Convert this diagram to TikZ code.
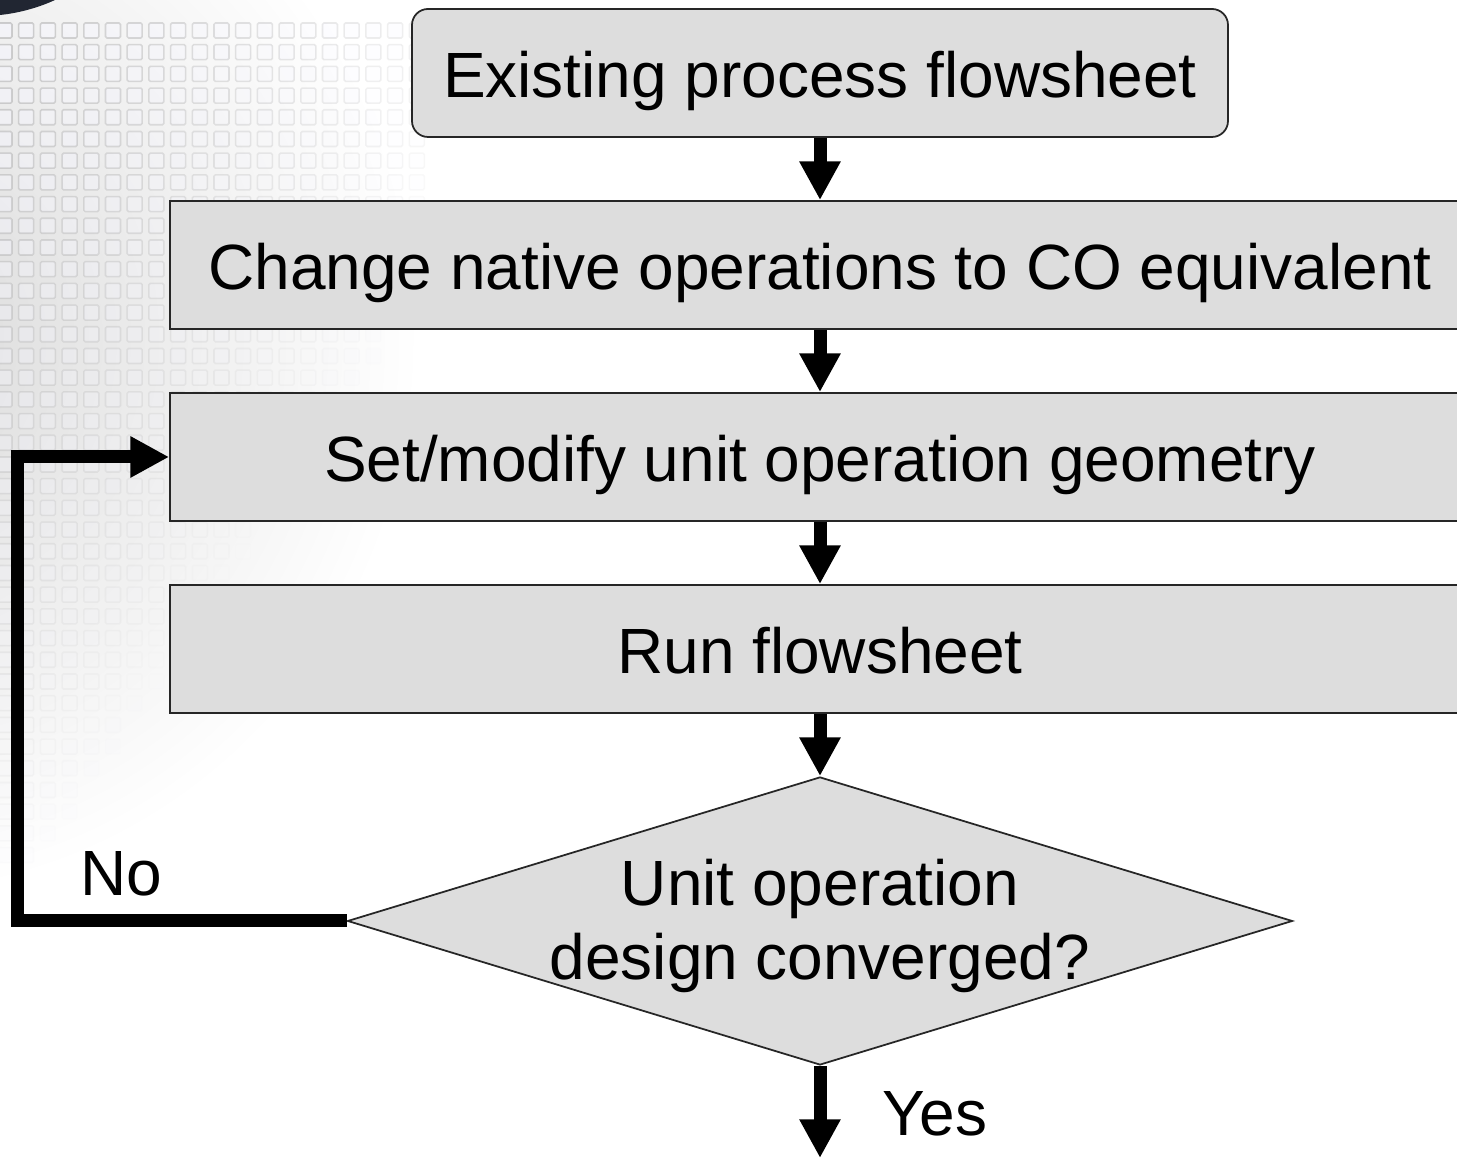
\documentclass[tikz,border=0pt]{standalone}
\usepackage{fontspec}
\setmainfont{Liberation Sans}
\usepackage{tikz}
\usetikzlibrary{shapes.geometric, arrows.meta}
\definecolor{boxgray}{RGB}{221, 221, 221}
\definecolor{cornerdark}{RGB}{33, 38, 50}
\newcommand{\flowfont}{\fontsize{18.2}{21.3}\selectfont}

\begin{document}
\begin{tikzpicture}[>=Stealth,
    procbox/.style={draw=black!85, line width=0.5pt, fill=boxgray, minimum width=13cm, minimum height=1.28cm, font=\flowfont, text height=0.5cm, text depth=0cm},
    startbox/.style={procbox, rounded corners=0.16cm, minimum width=8.16cm},
    decision/.style={diamond, draw=black!85, line width=0.5pt, fill=boxgray, minimum width=9.45cm, minimum height=2.88cm, inner sep=0pt},
    flow/.style={line width=3.7pt, -{Triangle[length=11pt, width=11pt]}},
    gridsq/.style={draw=gray!65, fill=blue!3, line width=0.45pt, rounded corners=0.4pt}]
    \useasboundingbox (0, 0) rectangle (14.57, 11.58);

    % Slide background
    \begin{scope}
        \clip (0, 0) rectangle (14.57, 11.58);
        \shade[inner color=gray!30, outer color=white] (-1.2, 8.2) ellipse (5.4 and 5.6);
        \foreach \i in {0,...,19}
            \foreach \j in {0,...,38} {
                \pgfmathsetmacro{\op}{max(0, 0.55 - 0.02*\i - 0.0135*\j)}
                \draw[gridsq, draw opacity=\op, fill opacity=\op] ({-0.03 + 0.217*\i}, {11.35 - 0.217*\j}) rectangle ++(0.15, -0.15);
            }
        \fill[cornerdark] (0, 11.58) -- (0, 11.43) .. controls (0.2, 11.45) and (0.4, 11.51) .. (0.55, 11.58) -- cycle;
    \end{scope}

    % Flow steps
    \node[startbox] (existing) at (8.20, 10.85) {Existing process flowsheet};
    \node[procbox] (native) at (8.20, 8.93) {Change native operations to CO equivalent};
    \node[procbox] (geometry) at (8.20, 7.01) {Set/modify unit operation geometry};
    \node[procbox] (runfs) at (8.20, 5.09) {Run flowsheet};
    \node[decision] (converged) at (8.20, 2.37) {};
    \node[font=\flowfont, align=center, yshift=-0.05cm] (convtext) at (converged.center) {Unit operation\\design converged?};

    % Branch labels
    \node[font=\flowfont] (nolabel) at (1.21, 2.84) {No};
    \node[font=\flowfont] (yeslabel) at (9.35, 0.44) {Yes};

    % Connectors
    \coordinate (loopcorner) at (0.175, 2.37);
    \coordinate (exitpt) at (8.20, 0);
    \draw[flow] (existing) -- (native);
    \draw[flow] (native) -- (geometry);
    \draw[flow] (geometry) -- (runfs);
    \draw[flow] (runfs) -- (converged);
    \draw[flow] (converged.west) -- (loopcorner) |- (geometry.west);
    \draw[flow] (converged) -- (exitpt);
\end{tikzpicture}
\end{document}
